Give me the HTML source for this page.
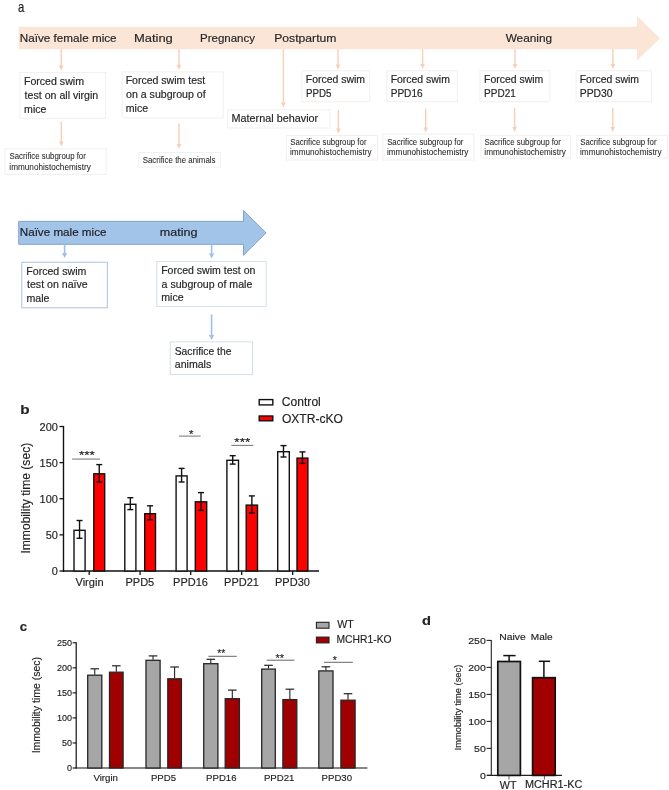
<!DOCTYPE html>
<html><head><meta charset="utf-8"><title>Figure</title>
<style>
html,body{margin:0;padding:0;background:#fff;}
body{width:669px;height:790px;overflow:hidden;}
svg{display:block;filter:blur(0.3px);font-family:"Liberation Sans",sans-serif;}
</style></head><body>
<svg width="669" height="790" viewBox="0 0 669 790">
<rect width="669" height="790" fill="#fff"/>
<text x="18.12" y="12" font-size="14.5" fill="#1a1a1a" stroke="#1a1a1a" stroke-width="0.17" textLength="6.28" lengthAdjust="spacingAndGlyphs">a</text>
<polygon points="18.6,26.7 637,26.7 637,16 660,38.2 637,60.8 637,49.3 18.6,49.3" fill="#FBE5D6" stroke="none" stroke-width="1"/>
<text x="19.84" y="42.4" font-size="11.4" fill="#262626" stroke="#262626" stroke-width="0.17" textLength="96.78" lengthAdjust="spacingAndGlyphs">Naïve female mice</text>
<text x="133.94" y="42.4" font-size="11.4" fill="#262626" stroke="#262626" stroke-width="0.17" textLength="38.9" lengthAdjust="spacingAndGlyphs">Mating</text>
<text x="200.06" y="42.4" font-size="11.4" fill="#262626" stroke="#262626" stroke-width="0.17" textLength="54.97" lengthAdjust="spacingAndGlyphs">Pregnancy</text>
<text x="274.2" y="42.4" font-size="11.4" fill="#262626" stroke="#262626" stroke-width="0.17" textLength="62.3" lengthAdjust="spacingAndGlyphs">Postpartum</text>
<text x="505.65" y="42.4" font-size="11.4" fill="#262626" stroke="#262626" stroke-width="0.17" textLength="46.51" lengthAdjust="spacingAndGlyphs">Weaning</text>
<line x1="61.2" y1="49.3" x2="61.2" y2="66" stroke="#F6CFB6" stroke-width="1.4"/>
<polygon points="58.9,65.5 63.5,65.5 61.2,70.5" fill="#F6CFB6" stroke="none" stroke-width="1"/>
<line x1="179" y1="49.3" x2="179" y2="65.5" stroke="#F6CFB6" stroke-width="1.4"/>
<polygon points="176.7,65 181.3,65 179,70" fill="#F6CFB6" stroke="none" stroke-width="1"/>
<line x1="338" y1="49.3" x2="338" y2="65" stroke="#F6CFB6" stroke-width="1.4"/>
<polygon points="335.7,64.5 340.3,64.5 338,69.5" fill="#F6CFB6" stroke="none" stroke-width="1"/>
<line x1="422.6" y1="49.3" x2="422.6" y2="64.5" stroke="#F6CFB6" stroke-width="1.4"/>
<polygon points="420.3,64 424.9,64 422.6,69" fill="#F6CFB6" stroke="none" stroke-width="1"/>
<line x1="515" y1="49.3" x2="515" y2="64.5" stroke="#F6CFB6" stroke-width="1.4"/>
<polygon points="512.7,64 517.3,64 515,69" fill="#F6CFB6" stroke="none" stroke-width="1"/>
<line x1="612.9" y1="49.3" x2="612.9" y2="64.5" stroke="#F6CFB6" stroke-width="1.4"/>
<polygon points="610.6,64 615.2,64 612.9,69" fill="#F6CFB6" stroke="none" stroke-width="1"/>
<line x1="283.4" y1="49.3" x2="283.4" y2="103" stroke="#F6CFB6" stroke-width="1.4"/>
<polygon points="281.1,102.5 285.7,102.5 283.4,107.5" fill="#F6CFB6" stroke="none" stroke-width="1"/>
<line x1="61.3" y1="121.7" x2="61.3" y2="142" stroke="#F6CFB6" stroke-width="1.4"/>
<polygon points="59,141.5 63.6,141.5 61.3,146.5" fill="#F6CFB6" stroke="none" stroke-width="1"/>
<line x1="179" y1="123.5" x2="179" y2="144.5" stroke="#F6CFB6" stroke-width="1.4"/>
<polygon points="176.7,144 181.3,144 179,149" fill="#F6CFB6" stroke="none" stroke-width="1"/>
<line x1="338.4" y1="109.8" x2="338.4" y2="129" stroke="#F6CFB6" stroke-width="1.4"/>
<polygon points="336.1,128.5 340.7,128.5 338.4,133.5" fill="#F6CFB6" stroke="none" stroke-width="1"/>
<line x1="425.7" y1="108.6" x2="425.7" y2="128" stroke="#F6CFB6" stroke-width="1.4"/>
<polygon points="423.4,127.5 428,127.5 425.7,132.5" fill="#F6CFB6" stroke="none" stroke-width="1"/>
<line x1="514.6" y1="108" x2="514.6" y2="127.5" stroke="#F6CFB6" stroke-width="1.4"/>
<polygon points="512.3,127 516.9,127 514.6,132" fill="#F6CFB6" stroke="none" stroke-width="1"/>
<line x1="612.8" y1="108" x2="612.8" y2="127.5" stroke="#F6CFB6" stroke-width="1.4"/>
<polygon points="610.5,127 615.1,127 612.8,132" fill="#F6CFB6" stroke="none" stroke-width="1"/>
<rect x="19.9" y="72.4" width="85.8" height="46" fill="#fff" stroke="#F3EFEC" stroke-width="1"/>
<text x="23.93" y="85" font-size="10.6" fill="#262626" stroke="#262626" stroke-width="0.17" textLength="60.08" lengthAdjust="spacingAndGlyphs">Forced swim</text>
<text x="24.64" y="98.75" font-size="10.6" fill="#262626" stroke="#262626" stroke-width="0.17" textLength="73.65" lengthAdjust="spacingAndGlyphs">test on all virgin</text>
<text x="24.1" y="112.5" font-size="10.6" fill="#262626" stroke="#262626" stroke-width="0.17" textLength="22.38" lengthAdjust="spacingAndGlyphs">mice</text>
<rect x="122.2" y="71.9" width="101" height="46" fill="#fff" stroke="#F3EFEC" stroke-width="1"/>
<text x="125.64" y="84.4" font-size="10.6" fill="#262626" stroke="#262626" stroke-width="0.17" textLength="79.64" lengthAdjust="spacingAndGlyphs">Forced swim test</text>
<text x="126.05" y="98.15" font-size="10.6" fill="#262626" stroke="#262626" stroke-width="0.17" textLength="79.56" lengthAdjust="spacingAndGlyphs">on a subgroup of</text>
<text x="125.8" y="111.9" font-size="10.6" fill="#262626" stroke="#262626" stroke-width="0.17" textLength="22.38" lengthAdjust="spacingAndGlyphs">mice</text>
<rect x="227.7" y="109.8" width="102.3" height="18.2" fill="#fff" stroke="#F3EFEC" stroke-width="1"/>
<text x="231.51" y="122.2" font-size="10.6" fill="#262626" stroke="#262626" stroke-width="0.17" textLength="86.67" lengthAdjust="spacingAndGlyphs">Maternal behavior</text>
<rect x="301.8" y="70.8" width="67.9" height="30.9" fill="#fff" stroke="#F3EFEC" stroke-width="1"/>
<text x="305.84" y="83.2" font-size="10.6" fill="#262626" stroke="#262626" stroke-width="0.17" textLength="59.25" lengthAdjust="spacingAndGlyphs">Forced swim</text>
<text x="305.9" y="96.5" font-size="10.6" fill="#262626" stroke="#262626" stroke-width="0.17" textLength="25.51" lengthAdjust="spacingAndGlyphs">PPD5</text>
<rect x="386.8" y="70.8" width="70.5" height="30.9" fill="#fff" stroke="#F3EFEC" stroke-width="1"/>
<text x="390.64" y="83.2" font-size="10.6" fill="#262626" stroke="#262626" stroke-width="0.17" textLength="59.25" lengthAdjust="spacingAndGlyphs">Forced swim</text>
<text x="390.67" y="96.5" font-size="10.6" fill="#262626" stroke="#262626" stroke-width="0.17" textLength="31.97" lengthAdjust="spacingAndGlyphs">PPD16</text>
<rect x="480" y="70.8" width="69.8" height="30.9" fill="#fff" stroke="#F3EFEC" stroke-width="1"/>
<text x="484.04" y="83.2" font-size="10.6" fill="#262626" stroke="#262626" stroke-width="0.17" textLength="59.25" lengthAdjust="spacingAndGlyphs">Forced swim</text>
<text x="484.08" y="96.5" font-size="10.6" fill="#262626" stroke="#262626" stroke-width="0.17" textLength="31.71" lengthAdjust="spacingAndGlyphs">PPD21</text>
<rect x="576.1" y="70.8" width="75.4" height="30.9" fill="#fff" stroke="#F3EFEC" stroke-width="1"/>
<text x="579.74" y="83.2" font-size="10.6" fill="#262626" stroke="#262626" stroke-width="0.17" textLength="59.25" lengthAdjust="spacingAndGlyphs">Forced swim</text>
<text x="579.75" y="96.5" font-size="10.6" fill="#262626" stroke="#262626" stroke-width="0.17" textLength="32.86" lengthAdjust="spacingAndGlyphs">PPD30</text>
<rect x="5" y="148.8" width="101.2" height="25.7" fill="#fff" stroke="#F3EFEC" stroke-width="1"/>
<text x="9.54" y="159.4" font-size="8.2" fill="#262626" stroke="#262626" stroke-width="0.05" textLength="76.29" lengthAdjust="spacingAndGlyphs">Sacrifice subgroup for</text>
<text x="9.35" y="169.6" font-size="8.2" fill="#262626" stroke="#262626" stroke-width="0.05" textLength="81.46" lengthAdjust="spacingAndGlyphs">immunohistochemistry</text>
<rect x="138.7" y="152.5" width="81.6" height="14.6" fill="#fff" stroke="#F3EFEC" stroke-width="1"/>
<text x="142.64" y="162.7" font-size="8.2" fill="#262626" stroke="#262626" stroke-width="0.05" textLength="72.94" lengthAdjust="spacingAndGlyphs">Sacrifice the animals</text>
<rect x="286.3" y="135.5" width="91.2" height="24.5" fill="#fff" stroke="#F3EFEC" stroke-width="1"/>
<text x="290.24" y="144.6" font-size="8.2" fill="#262626" stroke="#262626" stroke-width="0.05" textLength="76.29" lengthAdjust="spacingAndGlyphs">Sacrifice subgroup for</text>
<text x="290.05" y="154.8" font-size="8.2" fill="#262626" stroke="#262626" stroke-width="0.05" textLength="81.46" lengthAdjust="spacingAndGlyphs">immunohistochemistry</text>
<rect x="382.9" y="134.2" width="91.1" height="25.8" fill="#fff" stroke="#F3EFEC" stroke-width="1"/>
<text x="387.14" y="144.6" font-size="8.2" fill="#262626" stroke="#262626" stroke-width="0.05" textLength="76.29" lengthAdjust="spacingAndGlyphs">Sacrifice subgroup for</text>
<text x="386.95" y="154.8" font-size="8.2" fill="#262626" stroke="#262626" stroke-width="0.05" textLength="81.46" lengthAdjust="spacingAndGlyphs">immunohistochemistry</text>
<rect x="480.9" y="135.3" width="89.6" height="22.8" fill="#fff" stroke="#F3EFEC" stroke-width="1"/>
<text x="484.54" y="144.6" font-size="8.2" fill="#262626" stroke="#262626" stroke-width="0.05" textLength="76.29" lengthAdjust="spacingAndGlyphs">Sacrifice subgroup for</text>
<text x="484.35" y="154.8" font-size="8.2" fill="#262626" stroke="#262626" stroke-width="0.05" textLength="81.46" lengthAdjust="spacingAndGlyphs">immunohistochemistry</text>
<rect x="577" y="135.3" width="90.3" height="22.8" fill="#fff" stroke="#F3EFEC" stroke-width="1"/>
<text x="580.24" y="144.6" font-size="8.2" fill="#262626" stroke="#262626" stroke-width="0.05" textLength="76.29" lengthAdjust="spacingAndGlyphs">Sacrifice subgroup for</text>
<text x="580.05" y="154.8" font-size="8.2" fill="#262626" stroke="#262626" stroke-width="0.05" textLength="81.46" lengthAdjust="spacingAndGlyphs">immunohistochemistry</text>
<polygon points="18.7,221.4 243.5,221.4 243.5,210.5 266,232.8 243.5,255.3 243.5,244.3 18.7,244.3" fill="#A2C4E8" stroke="#7FA3CC" stroke-width="1"/>
<text x="19.75" y="236" font-size="11.2" fill="#1c1c24" stroke="#1c1c24" stroke-width="0.17" textLength="86.67" lengthAdjust="spacingAndGlyphs">Naïve male mice</text>
<text x="159.86" y="236" font-size="11.2" fill="#1c1c24" stroke="#1c1c24" stroke-width="0.17" textLength="37.75" lengthAdjust="spacingAndGlyphs">mating</text>
<line x1="64.6" y1="244.5" x2="64.6" y2="253.5" stroke="#9DC0E4" stroke-width="1.6"/>
<polygon points="62,253 67.2,253 64.6,258" fill="#9DC0E4" stroke="none" stroke-width="1"/>
<line x1="211.6" y1="244.5" x2="211.6" y2="254" stroke="#9DC0E4" stroke-width="1.6"/>
<polygon points="209,253.5 214.2,253.5 211.6,258.5" fill="#9DC0E4" stroke="none" stroke-width="1"/>
<line x1="211.6" y1="314.4" x2="211.6" y2="335.5" stroke="#9DC0E4" stroke-width="1.6"/>
<polygon points="209,335 214.2,335 211.6,340" fill="#9DC0E4" stroke="none" stroke-width="1"/>
<rect x="21.8" y="262.2" width="85.5" height="45.6" fill="#fff" stroke="#A9C4DE" stroke-width="1"/>
<text x="26.33" y="274.6" font-size="10.6" fill="#262626" stroke="#262626" stroke-width="0.17" textLength="59.97" lengthAdjust="spacingAndGlyphs">Forced swim</text>
<text x="27.04" y="288.3" font-size="10.6" fill="#262626" stroke="#262626" stroke-width="0.17" textLength="60.7" lengthAdjust="spacingAndGlyphs">test on naïve</text>
<text x="26.5" y="302" font-size="10.6" fill="#262626" stroke="#262626" stroke-width="0.17" textLength="22.98" lengthAdjust="spacingAndGlyphs">male</text>
<rect x="156.8" y="261.4" width="109.3" height="45.2" fill="#fff" stroke="#D3DEE9" stroke-width="1"/>
<text x="161.14" y="274" font-size="10.6" fill="#262626" stroke="#262626" stroke-width="0.17" textLength="94.25" lengthAdjust="spacingAndGlyphs">Forced swim test on</text>
<text x="161.55" y="287.65" font-size="10.6" fill="#262626" stroke="#262626" stroke-width="0.17" textLength="90.75" lengthAdjust="spacingAndGlyphs">a subgroup of male</text>
<text x="161.3" y="301.3" font-size="10.6" fill="#262626" stroke="#262626" stroke-width="0.17" textLength="22.38" lengthAdjust="spacingAndGlyphs">mice</text>
<rect x="170.2" y="341.9" width="82.3" height="32.7" fill="#fff" stroke="#D3DEE9" stroke-width="1"/>
<text x="174.73" y="354.6" font-size="10.6" fill="#262626" stroke="#262626" stroke-width="0.17" textLength="56.73" lengthAdjust="spacingAndGlyphs">Sacrifice the</text>
<text x="174.75" y="368.2" font-size="10.6" fill="#262626" stroke="#262626" stroke-width="0.17" textLength="36.53" lengthAdjust="spacingAndGlyphs">animals</text>
<text x="20.39" y="413.8" font-size="13.5" font-weight="bold" fill="#222" stroke="#222" stroke-width="0.15" textLength="9.33" lengthAdjust="spacingAndGlyphs">b</text>
<line x1="63.5" y1="426" x2="63.5" y2="571.6" stroke="#111" stroke-width="1.4"/>
<line x1="62.8" y1="571" x2="319" y2="571" stroke="#111" stroke-width="1.4"/>
<line x1="59.5" y1="571" x2="63.5" y2="571" stroke="#111" stroke-width="1.3"/>
<text x="51.81" y="575" font-size="11" fill="#222" stroke="#222" stroke-width="0.15" textLength="6.12" lengthAdjust="spacingAndGlyphs">0</text>
<line x1="59.5" y1="534.88" x2="63.5" y2="534.88" stroke="#111" stroke-width="1.3"/>
<text x="45.69" y="538.88" font-size="11" fill="#222" stroke="#222" stroke-width="0.15" textLength="12.24" lengthAdjust="spacingAndGlyphs">50</text>
<line x1="59.5" y1="498.75" x2="63.5" y2="498.75" stroke="#111" stroke-width="1.3"/>
<text x="39.58" y="502.75" font-size="11" fill="#222" stroke="#222" stroke-width="0.15" textLength="18.35" lengthAdjust="spacingAndGlyphs">100</text>
<line x1="59.5" y1="462.62" x2="63.5" y2="462.62" stroke="#111" stroke-width="1.3"/>
<text x="39.58" y="466.62" font-size="11" fill="#222" stroke="#222" stroke-width="0.15" textLength="18.35" lengthAdjust="spacingAndGlyphs">150</text>
<line x1="59.5" y1="426.5" x2="63.5" y2="426.5" stroke="#111" stroke-width="1.3"/>
<text x="39.58" y="430.5" font-size="11" fill="#222" stroke="#222" stroke-width="0.15" textLength="18.35" lengthAdjust="spacingAndGlyphs">200</text>
<line x1="89.2" y1="571" x2="89.2" y2="575" stroke="#111" stroke-width="1.3"/>
<text x="75.47" y="586.3" font-size="11" fill="#222" stroke="#222" stroke-width="0.15" textLength="28.12" lengthAdjust="spacingAndGlyphs">Virgin</text>
<line x1="140.1" y1="571" x2="140.1" y2="575" stroke="#111" stroke-width="1.3"/>
<text x="125.51" y="586.3" font-size="11" fill="#222" stroke="#222" stroke-width="0.15" textLength="28.74" lengthAdjust="spacingAndGlyphs">PPD5</text>
<line x1="190.7" y1="571" x2="190.7" y2="575" stroke="#111" stroke-width="1.3"/>
<text x="173.06" y="586.3" font-size="11" fill="#222" stroke="#222" stroke-width="0.15" textLength="34.85" lengthAdjust="spacingAndGlyphs">PPD16</text>
<line x1="241.7" y1="571" x2="241.7" y2="575" stroke="#111" stroke-width="1.3"/>
<text x="224.09" y="586.3" font-size="11" fill="#222" stroke="#222" stroke-width="0.15" textLength="34.85" lengthAdjust="spacingAndGlyphs">PPD21</text>
<line x1="292.7" y1="571" x2="292.7" y2="575" stroke="#111" stroke-width="1.3"/>
<text x="275.04" y="586.3" font-size="11" fill="#222" stroke="#222" stroke-width="0.15" textLength="34.85" lengthAdjust="spacingAndGlyphs">PPD30</text>
<rect x="74" y="530.3" width="11.1" height="40.7" fill="#fff" stroke="#111" stroke-width="1.4"/>
<line x1="79.55" y1="520.5" x2="79.55" y2="538.3" stroke="#111" stroke-width="1.4"/>
<line x1="76.55" y1="520.5" x2="82.55" y2="520.5" stroke="#111" stroke-width="1.4"/>
<line x1="76.55" y1="538.3" x2="82.55" y2="538.3" stroke="#111" stroke-width="1.4"/>
<rect x="93.8" y="473.8" width="10.9" height="97.2" fill="#f00" stroke="#111" stroke-width="1.4"/>
<line x1="99.25" y1="464.6" x2="99.25" y2="482" stroke="#111" stroke-width="1.4"/>
<line x1="96.25" y1="464.6" x2="102.25" y2="464.6" stroke="#111" stroke-width="1.4"/>
<line x1="96.25" y1="482" x2="102.25" y2="482" stroke="#111" stroke-width="1.4"/>
<rect x="124.8" y="504.3" width="11.1" height="66.7" fill="#fff" stroke="#111" stroke-width="1.4"/>
<line x1="130.35" y1="497.7" x2="130.35" y2="509.6" stroke="#111" stroke-width="1.4"/>
<line x1="127.35" y1="497.7" x2="133.35" y2="497.7" stroke="#111" stroke-width="1.4"/>
<line x1="127.35" y1="509.6" x2="133.35" y2="509.6" stroke="#111" stroke-width="1.4"/>
<rect x="144.7" y="513.7" width="10.8" height="57.3" fill="#f00" stroke="#111" stroke-width="1.4"/>
<line x1="150.1" y1="505.8" x2="150.1" y2="519.8" stroke="#111" stroke-width="1.4"/>
<line x1="147.1" y1="505.8" x2="153.1" y2="505.8" stroke="#111" stroke-width="1.4"/>
<line x1="147.1" y1="519.8" x2="153.1" y2="519.8" stroke="#111" stroke-width="1.4"/>
<rect x="176.1" y="475.9" width="11" height="95.1" fill="#fff" stroke="#111" stroke-width="1.4"/>
<line x1="181.6" y1="468.4" x2="181.6" y2="482" stroke="#111" stroke-width="1.4"/>
<line x1="178.6" y1="468.4" x2="184.6" y2="468.4" stroke="#111" stroke-width="1.4"/>
<line x1="178.6" y1="482" x2="184.6" y2="482" stroke="#111" stroke-width="1.4"/>
<rect x="195.3" y="501.8" width="11.4" height="69.2" fill="#f00" stroke="#111" stroke-width="1.4"/>
<line x1="201" y1="492.6" x2="201" y2="510.4" stroke="#111" stroke-width="1.4"/>
<line x1="198" y1="492.6" x2="204" y2="492.6" stroke="#111" stroke-width="1.4"/>
<line x1="198" y1="510.4" x2="204" y2="510.4" stroke="#111" stroke-width="1.4"/>
<rect x="226.9" y="460.3" width="11.6" height="110.7" fill="#fff" stroke="#111" stroke-width="1.4"/>
<line x1="232.7" y1="455.7" x2="232.7" y2="464.1" stroke="#111" stroke-width="1.4"/>
<line x1="229.7" y1="455.7" x2="235.7" y2="455.7" stroke="#111" stroke-width="1.4"/>
<line x1="229.7" y1="464.1" x2="235.7" y2="464.1" stroke="#111" stroke-width="1.4"/>
<rect x="246.2" y="505.1" width="11.3" height="65.9" fill="#f00" stroke="#111" stroke-width="1.4"/>
<line x1="251.85" y1="495.9" x2="251.85" y2="513" stroke="#111" stroke-width="1.4"/>
<line x1="248.85" y1="495.9" x2="254.85" y2="495.9" stroke="#111" stroke-width="1.4"/>
<line x1="248.85" y1="513" x2="254.85" y2="513" stroke="#111" stroke-width="1.4"/>
<rect x="277.7" y="451.7" width="11.6" height="119.3" fill="#fff" stroke="#111" stroke-width="1.4"/>
<line x1="283.5" y1="445.6" x2="283.5" y2="457" stroke="#111" stroke-width="1.4"/>
<line x1="280.5" y1="445.6" x2="286.5" y2="445.6" stroke="#111" stroke-width="1.4"/>
<line x1="280.5" y1="457" x2="286.5" y2="457" stroke="#111" stroke-width="1.4"/>
<rect x="297" y="458.1" width="10.9" height="112.9" fill="#f00" stroke="#111" stroke-width="1.4"/>
<line x1="302.45" y1="451.9" x2="302.45" y2="463.4" stroke="#111" stroke-width="1.4"/>
<line x1="299.45" y1="451.9" x2="305.45" y2="451.9" stroke="#111" stroke-width="1.4"/>
<line x1="299.45" y1="463.4" x2="305.45" y2="463.4" stroke="#111" stroke-width="1.4"/>
<line x1="72.1" y1="459.1" x2="99.9" y2="459.1" stroke="#9a9a9a" stroke-width="1.4"/>
<line x1="179" y1="436.1" x2="200.7" y2="436.1" stroke="#808080" stroke-width="1.1"/>
<line x1="231.3" y1="445.4" x2="253.4" y2="445.4" stroke="#808080" stroke-width="1.1"/>
<text x="78.98" y="458.74" font-size="11.4" fill="#222" stroke="#222" stroke-width="0.15" textLength="15.93" lengthAdjust="spacingAndGlyphs">***</text>
<text x="188.88" y="437.64" font-size="11.4" fill="#222" stroke="#222" stroke-width="0.15" textLength="4.44" lengthAdjust="spacingAndGlyphs">*</text>
<text x="234.38" y="446.04" font-size="11.4" fill="#222" stroke="#222" stroke-width="0.15" textLength="15.83" lengthAdjust="spacingAndGlyphs">***</text>
<rect x="259.2" y="399.6" width="13.6" height="5.3" fill="#fff" stroke="#111" stroke-width="1.4"/>
<rect x="259.2" y="416" width="13.6" height="4.8" fill="#f00" stroke="#111" stroke-width="1.4"/>
<text x="281.89" y="406.3" font-size="12" fill="#222" stroke="#222" stroke-width="0.15" textLength="38.92" lengthAdjust="spacingAndGlyphs">Control</text>
<text x="281.93" y="422.7" font-size="12" fill="#222" stroke="#222" stroke-width="0.15" textLength="61.05" lengthAdjust="spacingAndGlyphs">OXTR-cKO</text>
<g transform="translate(29.6,498.0) rotate(-90)">
<text x="-55.57" y="0" font-size="12" fill="#222" stroke="#222" stroke-width="0.15" textLength="110.76" lengthAdjust="spacingAndGlyphs">Immobility time (sec)</text>
</g>
<text x="19.69" y="630.7" font-size="13.5" font-weight="bold" fill="#222" stroke="#222" stroke-width="0.15" textLength="7.3" lengthAdjust="spacingAndGlyphs">c</text>
<line x1="76.2" y1="642.3" x2="76.2" y2="768.5" stroke="#111" stroke-width="1.2"/>
<line x1="75.6" y1="768" x2="367.4" y2="768" stroke="#111" stroke-width="1.2"/>
<line x1="72.6" y1="768" x2="76.2" y2="768" stroke="#111" stroke-width="1.1"/>
<text x="67.05" y="771.3" font-size="9" fill="#222" stroke="#222" stroke-width="0.15" textLength="5.01" lengthAdjust="spacingAndGlyphs">0</text>
<line x1="72.6" y1="742.96" x2="76.2" y2="742.96" stroke="#111" stroke-width="1.1"/>
<text x="62.04" y="746.26" font-size="9" fill="#222" stroke="#222" stroke-width="0.15" textLength="10.01" lengthAdjust="spacingAndGlyphs">50</text>
<line x1="72.6" y1="717.92" x2="76.2" y2="717.92" stroke="#111" stroke-width="1.1"/>
<text x="57.04" y="721.22" font-size="9" fill="#222" stroke="#222" stroke-width="0.15" textLength="15.02" lengthAdjust="spacingAndGlyphs">100</text>
<line x1="72.6" y1="692.88" x2="76.2" y2="692.88" stroke="#111" stroke-width="1.1"/>
<text x="57.04" y="696.18" font-size="9" fill="#222" stroke="#222" stroke-width="0.15" textLength="15.02" lengthAdjust="spacingAndGlyphs">150</text>
<line x1="72.6" y1="667.84" x2="76.2" y2="667.84" stroke="#111" stroke-width="1.1"/>
<text x="57.04" y="671.14" font-size="9" fill="#222" stroke="#222" stroke-width="0.15" textLength="15.02" lengthAdjust="spacingAndGlyphs">200</text>
<line x1="72.6" y1="642.8" x2="76.2" y2="642.8" stroke="#111" stroke-width="1.1"/>
<text x="57.04" y="646.1" font-size="9" fill="#222" stroke="#222" stroke-width="0.15" textLength="15.02" lengthAdjust="spacingAndGlyphs">250</text>
<text x="93.42" y="781" font-size="9.6" fill="#222" stroke="#222" stroke-width="0.15" textLength="24.54" lengthAdjust="spacingAndGlyphs">Virgin</text>
<text x="150.97" y="781" font-size="9.6" fill="#222" stroke="#222" stroke-width="0.15" textLength="25.08" lengthAdjust="spacingAndGlyphs">PPD5</text>
<text x="206.11" y="781" font-size="9.6" fill="#222" stroke="#222" stroke-width="0.15" textLength="30.42" lengthAdjust="spacingAndGlyphs">PPD16</text>
<text x="263.93" y="781" font-size="9.6" fill="#222" stroke="#222" stroke-width="0.15" textLength="30.42" lengthAdjust="spacingAndGlyphs">PPD21</text>
<text x="321.59" y="781" font-size="9.6" fill="#222" stroke="#222" stroke-width="0.15" textLength="30.42" lengthAdjust="spacingAndGlyphs">PPD30</text>
<line x1="94.75" y1="668.8" x2="94.75" y2="674.7" stroke="#222" stroke-width="1.1"/>
<line x1="90.45" y1="668.8" x2="99.05" y2="668.8" stroke="#222" stroke-width="1.2"/>
<rect x="87.7" y="675.2" width="14.1" height="92.8" fill="#A6A6A6" stroke="#262626" stroke-width="1.3"/>
<line x1="116.3" y1="665.8" x2="116.3" y2="671.7" stroke="#222" stroke-width="1.1"/>
<line x1="112" y1="665.8" x2="120.6" y2="665.8" stroke="#222" stroke-width="1.2"/>
<rect x="109.5" y="672.2" width="13.6" height="95.8" fill="#A00000" stroke="#262626" stroke-width="1.3"/>
<line x1="153.05" y1="655.9" x2="153.05" y2="659.8" stroke="#222" stroke-width="1.1"/>
<line x1="148.75" y1="655.9" x2="157.35" y2="655.9" stroke="#222" stroke-width="1.2"/>
<rect x="146" y="660.3" width="14.1" height="107.7" fill="#A6A6A6" stroke="#262626" stroke-width="1.3"/>
<line x1="174.6" y1="667" x2="174.6" y2="678.3" stroke="#222" stroke-width="1.1"/>
<line x1="170.3" y1="667" x2="178.9" y2="667" stroke="#222" stroke-width="1.2"/>
<rect x="167.8" y="678.8" width="13.6" height="89.2" fill="#A00000" stroke="#262626" stroke-width="1.3"/>
<line x1="210.8" y1="659.3" x2="210.8" y2="663.2" stroke="#222" stroke-width="1.1"/>
<line x1="206.5" y1="659.3" x2="215.1" y2="659.3" stroke="#222" stroke-width="1.2"/>
<rect x="203.7" y="663.7" width="14.2" height="104.3" fill="#A6A6A6" stroke="#262626" stroke-width="1.3"/>
<line x1="232.3" y1="690.1" x2="232.3" y2="698.2" stroke="#222" stroke-width="1.1"/>
<line x1="228" y1="690.1" x2="236.6" y2="690.1" stroke="#222" stroke-width="1.2"/>
<rect x="225.2" y="698.7" width="14.2" height="69.3" fill="#A00000" stroke="#262626" stroke-width="1.3"/>
<line x1="268.5" y1="665.3" x2="268.5" y2="668.6" stroke="#222" stroke-width="1.1"/>
<line x1="264.2" y1="665.3" x2="272.8" y2="665.3" stroke="#222" stroke-width="1.2"/>
<rect x="261.7" y="669.1" width="13.6" height="98.9" fill="#A6A6A6" stroke="#262626" stroke-width="1.3"/>
<line x1="289.85" y1="689.2" x2="289.85" y2="699.1" stroke="#222" stroke-width="1.1"/>
<line x1="285.55" y1="689.2" x2="294.15" y2="689.2" stroke="#222" stroke-width="1.2"/>
<rect x="282.9" y="699.6" width="13.9" height="68.4" fill="#A00000" stroke="#262626" stroke-width="1.3"/>
<line x1="325.9" y1="666.8" x2="325.9" y2="670.4" stroke="#222" stroke-width="1.1"/>
<line x1="321.6" y1="666.8" x2="330.2" y2="666.8" stroke="#222" stroke-width="1.2"/>
<rect x="318.8" y="670.9" width="14.2" height="97.1" fill="#A6A6A6" stroke="#262626" stroke-width="1.3"/>
<line x1="348" y1="693.7" x2="348" y2="699.7" stroke="#222" stroke-width="1.1"/>
<line x1="343.7" y1="693.7" x2="352.3" y2="693.7" stroke="#222" stroke-width="1.2"/>
<rect x="340.9" y="700.2" width="14.2" height="67.8" fill="#A00000" stroke="#262626" stroke-width="1.3"/>
<line x1="208.4" y1="656.3" x2="236.8" y2="656.3" stroke="#555" stroke-width="0.9"/>
<line x1="266.7" y1="660.2" x2="294.5" y2="660.2" stroke="#555" stroke-width="0.9"/>
<line x1="324.1" y1="662.3" x2="352.8" y2="662.3" stroke="#555" stroke-width="0.9"/>
<text x="217.13" y="657.01" font-size="11" fill="#222" stroke="#222" stroke-width="0.15" textLength="8.13" lengthAdjust="spacingAndGlyphs">**</text>
<text x="275.42" y="662.01" font-size="11" fill="#222" stroke="#222" stroke-width="0.15" textLength="8.55" lengthAdjust="spacingAndGlyphs">**</text>
<text x="332.73" y="663.61" font-size="11" fill="#222" stroke="#222" stroke-width="0.15" textLength="4.14" lengthAdjust="spacingAndGlyphs">*</text>
<rect x="316.4" y="622.3" width="12.6" height="5.9" fill="#A6A6A6" stroke="#222" stroke-width="1.1"/>
<rect x="316.4" y="637.1" width="12.6" height="5.8" fill="#A00000" stroke="#222" stroke-width="1.1"/>
<text x="337.25" y="628.3" font-size="10.8" fill="#222" stroke="#222" stroke-width="0.15" textLength="16.49" lengthAdjust="spacingAndGlyphs">WT</text>
<text x="336.45" y="643.2" font-size="10.8" fill="#222" stroke="#222" stroke-width="0.15" textLength="55.14" lengthAdjust="spacingAndGlyphs">MCHR1-KO</text>
<g transform="translate(40.3,705.0) rotate(-90)">
<text x="-48.32" y="0" font-size="10.3" fill="#222" stroke="#222" stroke-width="0.15" textLength="96.32" lengthAdjust="spacingAndGlyphs">Immobility time (sec)</text>
</g>
<text x="422.1" y="624.5" font-size="13.5" font-weight="bold" fill="#222" stroke="#222" stroke-width="0.15" textLength="8.97" lengthAdjust="spacingAndGlyphs">d</text>
<line x1="491.3" y1="640" x2="491.3" y2="775.9" stroke="#222" stroke-width="1.1"/>
<line x1="487" y1="775.4" x2="561.9" y2="775.4" stroke="#222" stroke-width="1.1"/>
<line x1="486.6" y1="775.4" x2="491.3" y2="775.4" stroke="#222" stroke-width="1.1"/>
<text x="479.94" y="778.9" font-size="9.6" fill="#222" stroke="#222" stroke-width="0.15" textLength="5.87" lengthAdjust="spacingAndGlyphs">0</text>
<line x1="486.6" y1="748.4" x2="491.3" y2="748.4" stroke="#222" stroke-width="1.1"/>
<text x="474.07" y="751.9" font-size="9.6" fill="#222" stroke="#222" stroke-width="0.15" textLength="11.75" lengthAdjust="spacingAndGlyphs">50</text>
<line x1="486.6" y1="721.4" x2="491.3" y2="721.4" stroke="#222" stroke-width="1.1"/>
<text x="468.19" y="724.9" font-size="9.6" fill="#222" stroke="#222" stroke-width="0.15" textLength="17.62" lengthAdjust="spacingAndGlyphs">100</text>
<line x1="486.6" y1="694.4" x2="491.3" y2="694.4" stroke="#222" stroke-width="1.1"/>
<text x="468.19" y="697.9" font-size="9.6" fill="#222" stroke="#222" stroke-width="0.15" textLength="17.62" lengthAdjust="spacingAndGlyphs">150</text>
<line x1="486.6" y1="667.4" x2="491.3" y2="667.4" stroke="#222" stroke-width="1.1"/>
<text x="468.19" y="670.9" font-size="9.6" fill="#222" stroke="#222" stroke-width="0.15" textLength="17.62" lengthAdjust="spacingAndGlyphs">200</text>
<line x1="486.6" y1="640.4" x2="491.3" y2="640.4" stroke="#222" stroke-width="1.1"/>
<text x="468.19" y="643.9" font-size="9.6" fill="#222" stroke="#222" stroke-width="0.15" textLength="17.62" lengthAdjust="spacingAndGlyphs">250</text>
<line x1="509" y1="775.4" x2="509" y2="779.6" stroke="#666" stroke-width="1"/>
<line x1="544.4" y1="775.4" x2="544.4" y2="779.6" stroke="#666" stroke-width="1"/>
<line x1="509.1" y1="655.6" x2="509.1" y2="661.1" stroke="#111" stroke-width="1.5"/>
<line x1="503.3" y1="655.6" x2="515.6" y2="655.6" stroke="#111" stroke-width="1.5"/>
<rect x="497.8" y="661.5" width="22.6" height="113.9" fill="#A6A6A6" stroke="#111" stroke-width="1.7"/>
<line x1="543.9" y1="661.3" x2="543.9" y2="677.3" stroke="#111" stroke-width="1.5"/>
<line x1="538.8" y1="661.3" x2="550.1" y2="661.3" stroke="#111" stroke-width="1.5"/>
<rect x="532.6" y="677.7" width="22.6" height="97.7" fill="#A00000" stroke="#111" stroke-width="1.7"/>
<text x="499.25" y="640.4" font-size="9.3" fill="#222" stroke="#222" stroke-width="0.15" textLength="26.51" lengthAdjust="spacingAndGlyphs">Naive</text>
<text x="530.88" y="640.4" font-size="9.3" fill="#222" stroke="#222" stroke-width="0.15" textLength="21.77" lengthAdjust="spacingAndGlyphs">Male</text>
<text x="499.85" y="788.6" font-size="10" fill="#222" stroke="#222" stroke-width="0.15" textLength="16.69" lengthAdjust="spacingAndGlyphs">WT</text>
<text x="524.91" y="788.2" font-size="10" fill="#222" stroke="#222" stroke-width="0.15" textLength="57.41" lengthAdjust="spacingAndGlyphs">MCHR1-KC</text>
<g transform="translate(461.3,707.4) rotate(-90)">
<text x="-42.96" y="0" font-size="9.4" fill="#222" stroke="#222" stroke-width="0.15" textLength="85.64" lengthAdjust="spacingAndGlyphs">Immobility time (sec)</text>
</g>
</svg>
</body></html>
